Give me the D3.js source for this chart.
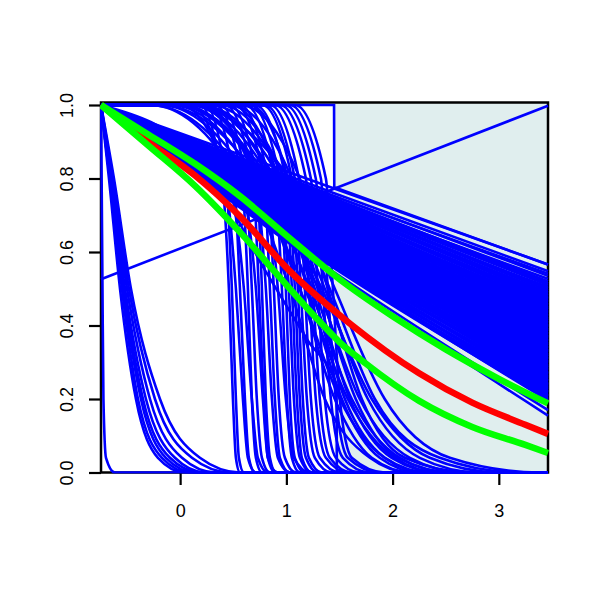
<!DOCTYPE html>
<html>
<head>
<meta charset="utf-8">
<script src="https://cdn.jsdelivr.net/npm/d3@7"></script>
<style>
  body { margin: 0; background: #fff; }
</style>
</head>
<body>
<script>
// values
var xTicks = [0, 1, 2, 3];
var yTicks = [0, 0.2, 0.4, 0.6, 0.8, 1.0];
var xRange = [-0.745, 3.463];
var yTop = 1.0068;
var shadeFrom = 1.452;

// highlighted curves, [x, survival]
var redCurve = [[-0.745, 1], [-0.3, 0.9], [0.14, 0.808], [0.563, 0.697], [1.033, 0.548],
  [1.6, 0.405], [2.25, 0.27], [2.75, 0.19], [3.25, 0.13], [3.463, 0.105]];
var greenUpper = [[-0.745, 1], [-0.3, 0.92], [0.14, 0.84], [0.563, 0.752], [1.0, 0.645],
  [1.55, 0.515], [2.0, 0.425], [2.5, 0.335], [3.0, 0.255], [3.463, 0.188]];
var greenLower = [[-0.745, 1], [-0.3, 0.89], [0.14, 0.78], [0.563, 0.654], [0.95, 0.527],
  [1.315, 0.41], [1.5, 0.355], [1.75, 0.296], [2.25, 0.195], [2.75, 0.124], [3.25, 0.075], [3.463, 0.053]];

// odd single blue lines
var diagonalLine = [[-0.745, 0.526], [3.463, 0.998]];
var stepLine = [[-0.745, 1], [1.449, 1], [1.451, 0.776], [3.463, 0.566]];
var cutLine = [[-0.745, 1], [0.2, 0.85], [0.8, 0.55], [1.2, 0.36], [1.472, 0.235], [1.476, 0], [3.463, 0]];

// slow fan of curves: value at x = 1.45 and at the right edge
var fanMidX = 1.45;
var fanMid = [0.773, 0.760, 0.752, 0.746, 0.738, 0.735, 0.726, 0.725, 0.716, 0.714, 0.705, 0.706,
  0.697, 0.698, 0.688, 0.689, 0.680, 0.681, 0.672, 0.673, 0.662, 0.665, 0.654, 0.657, 0.645, 0.648,
  0.637, 0.640, 0.628, 0.631, 0.619, 0.622, 0.610, 0.614, 0.600, 0.605, 0.592, 0.597, 0.584, 0.590,
  0.576, 0.582, 0.568, 0.575, 0.562, 0.560, 0.545, 0.538,
  0.752, 0.742, 0.741, 0.730, 0.731, 0.720, 0.722, 0.710, 0.712, 0.700, 0.703, 0.691, 0.694, 0.682,
  0.686, 0.673, 0.677, 0.664, 0.668, 0.655, 0.660, 0.646, 0.651, 0.636, 0.642, 0.627, 0.634, 0.618,
  0.625, 0.609, 0.616, 0.600, 0.607, 0.592, 0.598, 0.583, 0.589, 0.574, 0.580, 0.566, 0.571, 0.560,
  0.564, 0.556];
var fanEnd = [0.566, 0.548, 0.535, 0.52, 0.51, 0.50, 0.49, 0.482, 0.474, 0.466, 0.458, 0.45,
  0.443, 0.436, 0.428, 0.42, 0.413, 0.405, 0.398, 0.39, 0.383, 0.375, 0.368, 0.36, 0.352, 0.345,
  0.337, 0.33, 0.322, 0.315, 0.307, 0.30, 0.292, 0.285, 0.277, 0.27, 0.262, 0.255, 0.247, 0.24,
  0.232, 0.225, 0.218, 0.21, 0.203, 0.196, 0.17, 0.155,
  0.541, 0.527, 0.515, 0.505, 0.495, 0.486, 0.478, 0.47, 0.462, 0.454, 0.446, 0.439, 0.432, 0.424,
  0.416, 0.409, 0.401, 0.394, 0.386, 0.379, 0.371, 0.364, 0.356, 0.348, 0.341, 0.333, 0.326, 0.318,
  0.311, 0.303, 0.296, 0.288, 0.281, 0.273, 0.266, 0.258, 0.251, 0.243, 0.236, 0.228, 0.221, 0.214,
  0.207, 0.2];

// falling curves: x where each one crosses these levels
var dropLevels = [1, 0.8, 0.5, 0.2, 0.04, 0];
var leftDrops = [
  [-0.745, -0.739, -0.731, -0.722, -0.698, -0.614],
  [-0.745, -0.670, -0.566, -0.416, -0.209, 0.045],
  [-0.745, -0.661, -0.548, -0.397, -0.171, 0.092],
  [-0.745, -0.661, -0.538, -0.369, -0.134, 0.139],
  [-0.745, -0.651, -0.529, -0.350, -0.096, 0.186],
  [-0.745, -0.651, -0.519, -0.322, -0.049, 0.233],
  [-0.745, -0.642, -0.500, -0.284, 0.017, 0.33],
  [-0.745, -0.632, -0.482, -0.237, 0.111, 0.47],
  [-0.745, -0.623, -0.463, -0.190, 0.186, 0.56]
];
var steepDrops = [
  [0.186, 0.393, 0.459, 0.497, 0.525, 0.563],
  [0.233, 0.431, 0.487, 0.525, 0.553, 0.600],
  [0.092, 0.421, 0.525, 0.591, 0.638, 0.713],
  [0.280, 0.506, 0.563, 0.610, 0.647, 0.704],
  [-0.002, 0.450, 0.600, 0.675, 0.732, 0.826],
  [0.327, 0.581, 0.638, 0.675, 0.713, 0.770],
  [0.374, 0.619, 0.675, 0.722, 0.770, 0.845],
  [-0.284, 0.544, 0.713, 0.779, 0.826, 0.920],
  [0.421, 0.685, 0.741, 0.788, 0.826, 0.892],
  [0.468, 0.722, 0.770, 0.807, 0.845, 0.901],
  [0.186, 0.704, 0.807, 0.864, 0.920, 1.033],
  [0.516, 0.788, 0.845, 0.892, 0.939, 1.033],
  [0.563, 0.826, 0.882, 0.929, 0.986, 1.089],
  [0.092, 0.770, 0.920, 0.995, 1.071, 1.221],
  [0.610, 0.892, 0.958, 1.005, 1.052, 1.127],
  [0.657, 0.939, 0.995, 1.033, 1.080, 1.174],
  [0.468, 0.929, 1.023, 1.071, 1.127, 1.240],
  [0.704, 0.995, 1.052, 1.099, 1.146, 1.240],
  [0.657, 1.014, 1.080, 1.127, 1.184, 1.296],
  [0.770, 1.052, 1.108, 1.155, 1.212, 1.334],
  [0.798, 1.080, 1.136, 1.193, 1.268, 1.428],
  [0.845, 1.118, 1.174, 1.231, 1.315, 1.503],
  [0.563, 1.127, 1.212, 1.277, 1.372, 1.578],
  [0.892, 1.184, 1.249, 1.315, 1.409, 1.616],
  [0.939, 1.231, 1.296, 1.362, 1.466, 1.691],
  [0.986, 1.277, 1.343, 1.419, 1.532, 1.786],
  [1.033, 1.325, 1.390, 1.466, 1.578, 1.879],
  [1.080, 1.372, 1.438, 1.503, 1.616, 1.926]
];
var slowDrops = [
  [-0.096, 0.704, 1.127, 1.503, 1.926, 2.350],
  [-0.002, 0.770, 1.221, 1.616, 2.070, 2.539],
  [-0.190, 0.657, 1.174, 1.578, 2.020, 2.444],
  [0.092, 0.845, 1.296, 1.691, 2.163, 2.680],
  [0.186, 0.939, 1.362, 1.767, 2.256, 2.820],
  [-0.049, 0.798, 1.334, 1.804, 2.350, 3.010],
  [0.280, 0.986, 1.409, 1.833, 2.444, 3.198],
  [-0.284, 0.610, 1.033, 1.362, 1.786, 2.163],
  [0.139, 0.892, 1.240, 1.551, 1.926, 2.304],
  [0.045, 1.033, 1.456, 1.926, 2.539, 3.386],
  [-0.190, 0.732, 1.127, 1.456, 1.804, 2.180],
  [0.186, 0.864, 1.268, 1.597, 1.992, 2.444],
  [0.374, 0.986, 1.315, 1.653, 2.050, 2.586],
  [-0.049, 0.826, 1.202, 1.522, 1.879, 2.256],
  [0.468, 1.052, 1.390, 1.710, 2.115, 2.726]
];

var W = 600, H = 600;
var x = d3.scaleLinear().domain(xRange).range([101, 548]);
var y = d3.scaleLinear().domain([0, 1]).range([472.5, 105]);

var svg = d3.select("body").append("svg").attr("width", W).attr("height", H);

svg.append("defs").append("clipPath").attr("id", "plotclip")
  .append("rect")
  .attr("x", x(xRange[0]) - 1).attr("y", y(yTop) - 1)
  .attr("width", x(xRange[1]) - x(xRange[0]) + 2)
  .attr("height", y(0) - y(yTop) + 2);

// shaded region
svg.append("rect")
  .attr("x", x(shadeFrom)).attr("y", y(yTop))
  .attr("width", x(xRange[1]) - x(shadeFrom))
  .attr("height", y(0) - y(yTop))
  .attr("fill", "#E0EEEE");

// frame
svg.append("rect")
  .attr("x", x(xRange[0])).attr("y", y(yTop))
  .attr("width", x(xRange[1]) - x(xRange[0]))
  .attr("height", y(0) - y(yTop))
  .attr("fill", "none").attr("stroke", "#000").attr("stroke-width", 2.5);

// axes
var xAxis = svg.append("g").attr("transform", "translate(0," + y(0) + ")")
  .call(d3.axisBottom(x).tickValues(xTicks).tickSize(12.5).tickPadding(19).tickFormat(d3.format("d")));
var yAxis = svg.append("g").attr("transform", "translate(" + x(xRange[0]) + ",0)")
  .call(d3.axisLeft(y).tickValues(yTicks).tickSize(12).tickFormat(d3.format(".1f")));
[xAxis, yAxis].forEach(function(g) {
  g.attr("font-size", null).attr("font-family", null);
  g.select(".domain").remove();
  g.selectAll(".tick line").attr("stroke", "#000").attr("stroke-width", 2.2);
  g.selectAll("text")
    .attr("font-size", 18)
    .attr("font-family", "Liberation Sans, Arial, sans-serif")
    .attr("fill", "#000");
});
yAxis.selectAll(".tick text")
  .attr("x", null).attr("dy", null)
  .attr("text-anchor", "middle")
  .attr("transform", "translate(-27.7,0) rotate(-90)");

// curves
var plot = svg.append("g").attr("clip-path", "url(#plotclip)");
var smooth = d3.line().x(function(d) { return x(d[0]); }).y(function(d) { return y(d[1]); })
  .curve(d3.curveMonotoneX);
var straight = d3.line().x(function(d) { return x(d[0]); }).y(function(d) { return y(d[1]); });

function dropPoints(row) {
  var pts = [];
  if (row[0] > xRange[0]) pts.push([xRange[0], 1]);
  row.forEach(function(v, i) { pts.push([v, dropLevels[i]]); });
  if (row[row.length - 1] < xRange[1]) pts.push([xRange[1], 0]);
  return pts;
}

var blueCurves = [];
fanEnd.forEach(function(e, i) {
  blueCurves.push([[xRange[0], 1], [fanMidX, fanMid[i]], [xRange[1], e]]);
});
leftDrops.concat(steepDrops, slowDrops).forEach(function(r) { blueCurves.push(dropPoints(r)); });
blueCurves.push(cutLine);

plot.selectAll("path.blue").data(blueCurves).enter().append("path")
  .attr("class", "blue")
  .attr("d", smooth)
  .attr("fill", "none").attr("stroke", "#0000FF").attr("stroke-width", 2.6);

plot.selectAll("path.blueStraight").data([stepLine, diagonalLine]).enter().append("path")
  .attr("class", "blueStraight")
  .attr("d", straight)
  .attr("fill", "none").attr("stroke", "#0000FF").attr("stroke-width", 2.6);

var thick = [
  { pts: redCurve, col: "#FF0000" },
  { pts: greenUpper, col: "#00FF00" },
  { pts: greenLower, col: "#00FF00" }
];
plot.selectAll("path.thick").data(thick).enter().append("path")
  .attr("class", "thick")
  .attr("d", function(d) { return smooth(d.pts); })
  .attr("fill", "none").attr("stroke", function(d) { return d.col; })
  .attr("stroke-width", 6.5).attr("stroke-linejoin", "round");
</script>
</body>
</html>
